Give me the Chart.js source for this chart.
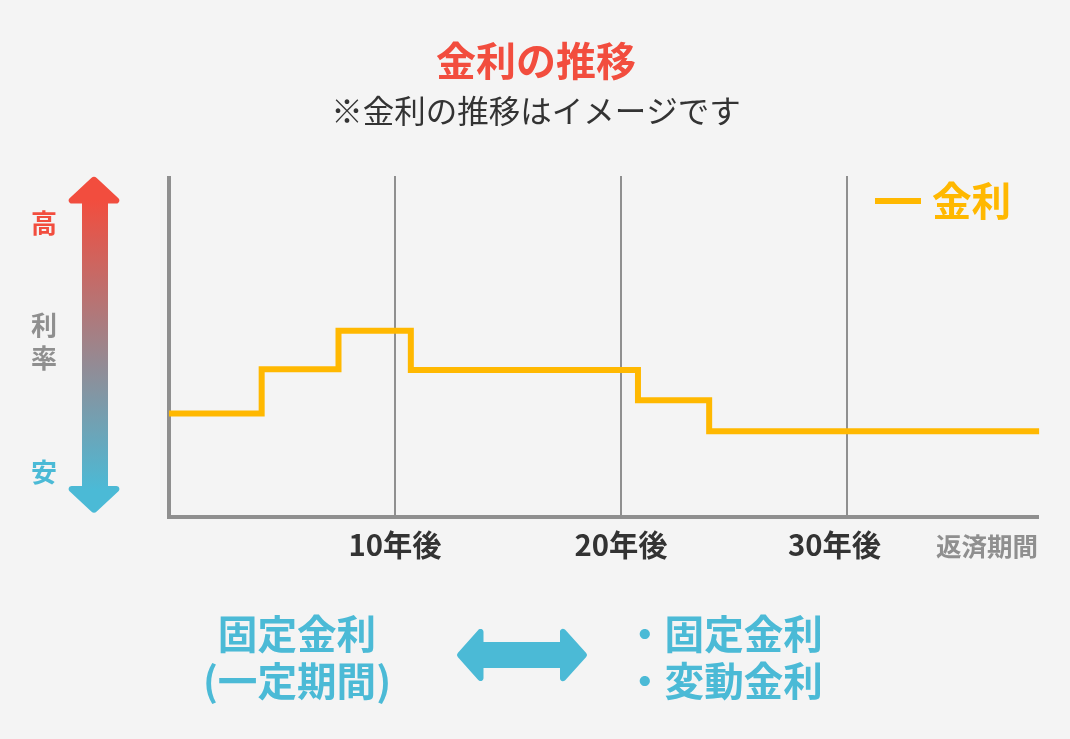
<!DOCTYPE html>
<html lang="ja">
<head>
<meta charset="utf-8">
<title>金利の推移</title>
<script src="https://cdn.jsdelivr.net/npm/chart.js@4"></script>
<style>
html,body{margin:0;padding:0;background:#f4f4f4;overflow:hidden}
canvas{display:block}
</style>
</head>
<body>
<canvas id="c" width="1070" height="739"></canvas>
<script>
const stepYears = [0, 4.1, 7.5, 10.7, 20.75, 23.9, 38.5];
const rateLevels = [30.3, 43.3, 54.6, 43.1, 34.2, 25.1, 25.1];
const tickYears = [10, 20, 30];
const tickLabels = ['10年後', '20年後', '30年後'];
const titleText = '金利の推移';
const subtitleText = '※金利の推移はイメージです';
const xAxisTitle = '返済期間';
const seriesName = '金利';
const rateAxisHigh = '高';
const rateAxisName = ['利', '率'];
const rateAxisLow = '安';
const leftNote = ['固定金利', '(一定期間)'];
const rightNote = ['・固定金利', '・変動金利'];

const FONT = '"Noto Sans CJK JP","Noto Sans",sans-serif';
const RED = '#f24d3e', BLUE = '#4bbad6', GOLD = '#ffb800', GRAY = '#8f8f8f', DARK = '#333333';

function roundedPoly(ctx, pts) {
  ctx.beginPath();
  const n = pts.length;
  ctx.moveTo((pts[n-1][0]+pts[0][0])/2, (pts[n-1][1]+pts[0][1])/2);
  for (let i = 0; i < n; i++) {
    const a = pts[i], b = pts[(i+1)%n];
    ctx.arcTo(a[0], a[1], (a[0]+b[0])/2, (a[1]+b[1])/2, a[2]);
  }
  ctx.closePath();
}

const decorations = {
  id: 'decorations',
  afterLayout(chart) {
    // centre the headings on the page rather than on the padded plot
    chart.boxes.filter(b => b.position === 'top').forEach(b => { b.left = 0; b.right = 1072; });
    // keep the y axis line flush with the top of the grid lines
    chart.scales.y.top = chart.chartArea.top + 2;
    // nudge the last tick label left, clear of the axis title
    chart.scales.x.getLabelItems().forEach(it => {
      if (it.label === tickLabels[2]) it.options.translation[0] -= 12.5;
    });
  },
  afterDraw(chart) {
    const ctx = chart.ctx;
    ctx.save();
    ctx.textAlign = 'center';
    ctx.textBaseline = 'middle';

    // vertical gradient arrow
    const g = ctx.createLinearGradient(0, 200, 0, 490);
    g.addColorStop(0, RED);
    g.addColorStop(1, BLUE);
    ctx.fillStyle = g;
    roundedPoly(ctx, [
      [94,175.5,4],[124,203.5,3],[108,203.5,0],[108,486,0],[124,486,3],[94,514,4],
      [64,486,3],[82,486,0],[82,203.5,0],[64,203.5,3]
    ]);
    ctx.fill();

    // rate axis labels
    ctx.font = 'bold 26px ' + FONT;
    ctx.fillStyle = RED;  ctx.fillText(rateAxisHigh, 44, 223);
    ctx.fillStyle = GRAY; ctx.fillText(rateAxisName[0], 44, 325);
    ctx.fillText(rateAxisName[1], 44, 358);
    ctx.fillStyle = BLUE; ctx.fillText(rateAxisLow, 44, 472);

    // series key
    ctx.fillStyle = GOLD;
    ctx.fillRect(875, 198, 46, 6);
    ctx.font = 'bold 39.6px ' + FONT;
    ctx.textAlign = 'left';
    ctx.fillText(seriesName, 932, 201);

    // bottom notes
    ctx.fillStyle = BLUE;
    ctx.textAlign = 'center';
    ctx.fillText(leftNote[0], 297, 634);
    ctx.fillText(leftNote[1], 297, 681);
    ctx.textAlign = 'left';
    ctx.fillText(rightNote[0], 625, 634);
    ctx.fillText(rightNote[1], 625, 681);

    // horizontal double arrow
    roundedPoly(ctx, [
      [456,655,3],[483.5,624,3],[483.5,642,0],[560,642,0],[560,624,3],[588,655,3],
      [560,686,3],[560,668,0],[483.5,668,0],[483.5,686,3]
    ]);
    ctx.fill();
    ctx.restore();
  }
};

new Chart(document.getElementById('c'), {
  type: 'line',
  data: {
    datasets: [{
      label: seriesName,
      data: stepYears.map((x, i) => ({ x, y: rateLevels[i] })),
      stepped: 'before',
      borderColor: GOLD,
      borderWidth: 6,
      borderJoinStyle: 'miter',
      borderCapStyle: 'butt',
      pointRadius: 0,
      fill: false,
      clip: false
    }]
  },
  options: {
    responsive: false,
    animation: false,
    devicePixelRatio: 1,
    layout: { padding: { left: 169, right: 32, top: 0, bottom: 162.6 } },
    plugins: {
      legend: { display: false },
      tooltip: { enabled: false },
      title: {
        display: true,
        text: titleText,
        color: RED,
        font: { family: FONT, size: 40, weight: 'bold', lineHeight: 1.2 },
        padding: { top: 37, bottom: 7.4 }
      },
      subtitle: {
        display: true,
        text: subtitleText,
        color: DARK,
        font: { family: FONT, size: 31.5, weight: 'normal', lineHeight: 1.2 },
        padding: { top: 0, bottom: 45.8 }
      }
    },
    scales: {
      x: {
        type: 'linear',
        min: 0,
        max: 38.45,
        afterBuildTicks(axis) { axis.ticks = tickYears.map(value => ({ value })); },
        grid: { color: GRAY, lineWidth: 2, drawTicks: false },
        border: { color: GRAY, width: 4 },
        ticks: {
          autoSkip: false,
          maxRotation: 0,
          minRotation: 0,
          padding: 10.4,
          color: DARK,
          font: { family: FONT, size: 29.3, weight: 'bold', lineHeight: 1.2 },
          callback(v) { const i = tickYears.indexOf(v); return i < 0 ? '' : tickLabels[i]; }
        },
        title: {
          display: true,
          text: xAxisTitle,
          align: 'end',
          color: GRAY,
          font: { family: FONT, size: 25.5, weight: 'bold', lineHeight: 1.2 },
          padding: { top: -42.2, bottom: 15.2 }
        }
      },
      y: {
        min: 0,
        max: 100,
        grid: { display: false, drawTicks: false },
        border: { color: GRAY, width: 4 },
        ticks: { display: false }
      }
    }
  },
  plugins: [decorations]
});
</script>
</body>
</html>
